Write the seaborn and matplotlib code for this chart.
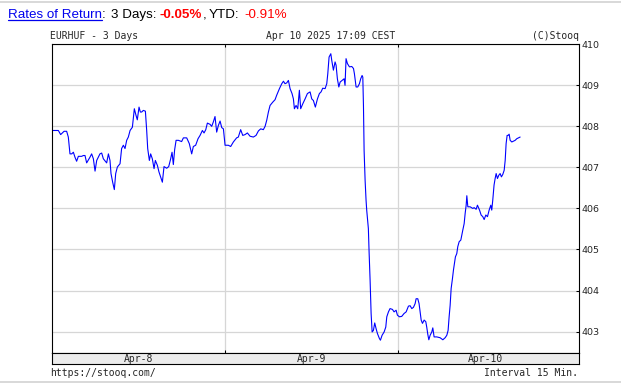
import seaborn as sns
import pandas as pd
import matplotlib
matplotlib.use('Agg')
import matplotlib.pyplot as plt
from matplotlib.lines import Line2D

# EURHUF, 3 days, 15 min interval (hours counted from Apr-8 00:00)
apr8_hours = [0.13, 0.92, 1.24, 1.71, 2.07, 2.30, 2.53, 2.77, 3.00, 3.22, 3.45, 3.69, 4.15, 4.38,
              4.61, 4.84, 5.30, 5.53, 5.77, 6.00, 6.23, 6.68, 6.92, 7.15, 7.61, 7.85, 8.07, 8.21,
              8.44, 8.67, 8.86, 9.09, 9.46, 9.68, 9.92, 10.15, 10.38, 10.61, 10.85, 11.17, 11.44,
              11.67, 11.85, 12.09, 12.27, 12.46, 12.69, 12.97, 13.15, 13.29, 13.52, 13.70, 13.93,
              14.17, 14.35, 14.63, 14.85, 15.09, 15.32, 15.55, 15.92, 16.20, 16.47, 16.66, 16.84,
              17.02, 17.22, 17.54, 17.99, 18.23, 18.69, 19.05, 19.38, 19.61, 19.93, 20.26, 20.54,
              20.86, 21.09, 21.33, 21.55, 21.92, 22.15, 22.38, 22.61, 22.84, 23.07, 23.31, 23.54,
              23.77, 24.00]
apr8_price = [407.90, 407.90, 407.80, 407.88, 407.88, 407.74, 407.33, 407.33, 407.37, 407.25, 407.15,
              407.27, 407.27, 407.29, 407.29, 407.11, 407.25, 407.33, 407.21, 406.91, 407.17, 407.33,
              407.35, 407.21, 407.11, 407.33, 407.17, 406.85, 406.64, 406.46, 406.85, 407.01, 407.09,
              407.46, 407.54, 407.46, 407.66, 407.74, 407.90, 407.98, 408.43, 408.27, 408.16, 408.47,
              408.35, 408.35, 408.39, 408.37, 407.90, 407.46, 407.17, 407.33, 407.21, 406.97, 407.17,
              407.05, 406.89, 406.76, 406.64, 407.02, 406.98, 407.02, 407.21, 407.37, 407.07, 407.43,
              407.66, 407.66, 407.63, 407.72, 407.72, 407.58, 407.33, 407.51, 407.54, 407.70, 407.78,
              407.90, 407.84, 407.92, 408.08, 408.05, 408.00, 408.11, 408.24, 407.86, 408.02, 408.13,
              407.97, 407.94, 407.54]

apr9_hours = [24.45, 24.78, 25.15, 25.60, 25.84, 26.16, 26.45, 26.77, 27.09, 27.46, 27.92, 28.29,
              28.62, 28.94, 29.30, 29.54, 29.77, 30.00, 30.23, 30.60, 30.92, 31.15, 31.53, 31.85,
              32.08, 32.30, 32.54, 32.77, 33.00, 33.27, 33.46, 33.60, 33.83, 34.06, 34.29, 34.47,
              34.76, 35.08, 35.40, 35.77, 36.00, 36.23, 36.50, 36.79, 37.06, 37.29, 37.52, 37.85,
              38.08, 38.22, 38.40, 38.64, 38.77, 39.00, 39.23, 39.37, 39.55, 39.75, 39.93, 40.20,
              40.48, 40.61, 40.75, 40.94, 41.22, 41.54, 41.78, 41.91, 42.14, 42.37, 42.60, 42.78,
              42.97, 43.07, 43.16, 43.25, 43.39, 43.52, 43.61, 43.84, 43.94, 44.08, 44.22, 44.36,
              44.54, 44.72, 44.91, 45.10, 45.37, 45.51, 45.74, 46.02, 46.25, 46.39, 46.62, 46.84,
              47.17, 47.40, 47.68, 47.86]
apr9_price = [407.54, 407.51, 407.62, 407.72, 407.74, 407.92, 407.78, 407.80, 407.84, 407.76, 407.74,
              407.78, 407.89, 407.94, 407.92, 408.00, 408.15, 408.35, 408.51, 408.59, 408.65, 408.76,
              408.92, 409.04, 409.10, 409.04, 409.06, 409.12, 408.92, 408.80, 408.67, 408.43, 408.51,
              408.43, 408.88, 408.43, 408.55, 408.67, 408.80, 408.84, 408.67, 408.63, 408.47, 408.67,
              408.80, 408.84, 408.93, 408.92, 409.04, 409.28, 409.69, 409.77, 409.61, 409.37, 409.57,
              409.49, 409.16, 408.96, 409.08, 409.12, 409.16, 409.00, 409.65, 409.53, 409.45, 409.46,
              409.41, 409.28, 408.96, 408.96, 409.04, 409.16, 409.24, 409.20, 408.51, 407.41, 406.68,
              406.20, 405.96, 405.51, 404.94, 404.25, 403.44, 402.99, 403.03, 403.21, 403.07, 402.95,
              402.83, 402.79, 402.91, 402.99, 403.11, 403.36, 403.48, 403.56, 403.54, 403.48, 403.52,
              403.40]

apr10_hours = [48.14, 48.46, 48.78, 49.07, 49.39, 49.62, 49.85, 50.08, 50.31, 50.45, 50.68, 50.86,
               51.00, 51.15, 51.33, 51.56, 51.79, 51.92, 52.07, 52.21, 52.39, 52.62, 52.76, 52.94,
               53.31, 53.77, 54.15, 54.47, 54.70, 54.88, 55.02, 55.16, 55.30, 55.48, 55.62, 55.76,
               55.89, 56.08, 56.22, 56.41, 56.64, 56.77, 56.91, 57.10, 57.24, 57.38, 57.47, 57.61,
               57.93, 58.30, 58.48, 58.76, 58.94, 59.23, 59.45, 59.68, 59.87, 60.10, 60.33, 60.56,
               60.79, 60.92, 61.06, 61.24, 61.39, 61.53, 61.71, 61.90, 62.08, 62.26, 62.45, 62.64,
               62.78, 62.91, 63.05, 63.19, 63.33, 63.47, 63.70, 63.93, 64.16, 64.39, 64.62, 64.85]
apr10_price = [403.36, 403.37, 403.44, 403.48, 403.62, 403.63, 403.56, 403.59, 403.68, 403.80, 403.80,
               403.68, 403.48, 403.28, 403.20, 403.28, 403.24, 403.11, 402.93, 402.80, 402.91, 402.99,
               403.09, 402.87, 402.87, 402.85, 402.80, 402.85, 402.91, 403.03, 403.36, 403.64, 404.05,
               404.29, 404.50, 404.66, 404.82, 404.90, 405.07, 405.19, 405.23, 405.35, 405.47, 405.63,
               405.88, 406.08, 406.31, 406.04, 406.04, 406.00, 406.02, 405.98, 406.08, 405.96, 405.84,
               405.80, 405.73, 405.84, 405.80, 405.96, 406.08, 405.96, 406.20, 406.57, 406.73, 406.85,
               406.73, 406.81, 406.85, 406.77, 406.83, 406.93, 407.17, 407.58, 407.78, 407.78, 407.81,
               407.66, 407.62, 407.64, 407.66, 407.70, 407.72, 407.74]

day_labels = ['Apr-8', 'Apr-9', 'Apr-10']
day_starts = [0, 24, 48]
y_ticks = [403, 404, 405, 406, 407, 408, 409, 410]
ret_3d = '-0.05%'
ret_ytd = '-0.91%'

df = pd.DataFrame({'hour': apr8_hours + apr9_hours + apr10_hours,
                   'price': apr8_price + apr9_price + apr10_price})

sns.set_style('white')
plt.rcParams['font.family'] = ['DejaVu Sans']

W, H = 621, 392
fig = plt.figure(figsize=(W / 100, H / 100), dpi=100)

# main plot area (pixel box 51.7..579 x 44.3..352.5)
ax = fig.add_axes([51.7 / W, (H - 352.5) / H, (579 - 51.7) / W, (352.5 - 44.3) / H])
sns.lineplot(data=df, x='hour', y='price', ax=ax, color='#0000ff', lw=0.8,
             estimator=None, sort=False, antialiased=True)
ax.set_xlim(0, 73)
ax.set_ylim(402.49, 410)
ax.set_xticks(day_starts[1:])
ax.set_yticks(y_ticks)
ax.grid(True, color='#d6d6d6', lw=0.9)
ax.set_xlabel('')
ax.set_ylabel('')
ax.yaxis.tick_right()
ax.tick_params(axis='y', direction='in', length=2.5, width=0.75, pad=2, labelsize=6.8,
               left=False, right=True, color='black')
ax.tick_params(axis='x', direction='in', length=2.5, width=0.75, top=True, bottom=True,
               labelbottom=False, color='black')
for s in ax.spines.values():
    s.set_color('black')
    s.set_linewidth(0.8)

# date band under the plot
band = fig.add_axes([51.7 / W, (H - 364) / H, (579 - 51.7) / W, (364 - 352.5) / H])
band.set_facecolor('#ececec')
band.set_xlim(0, 73)
band.set_xticks([])
band.set_yticks([])
for s in band.spines.values():
    s.set_color('black')
    s.set_linewidth(0.8)
for start, lab in zip(day_starts, day_labels):
    band.text(start + 12, 0.2, lab, transform=band.get_xaxis_transform(), ha='center',
              va='baseline', fontsize=7, family='DejaVu Sans Mono')

# header texts
mono = dict(fontsize=7, family='DejaVu Sans Mono', va='baseline')
fig.text(50 / W, (H - 39) / H, 'EURHUF - 3 Days', ha='left', **mono)
fig.text(266 / W, (H - 39) / H, 'Apr 10 2025 17:09 CEST', ha='left', **mono)
fig.text(579 / W, (H - 39) / H, '(C)Stooq', ha='right', **mono)
fig.text(50 / W, (H - 375.5) / H, 'https://stooq.com/', ha='left', **mono)
fig.text(578 / W, (H - 375.5) / H, 'Interval 15 Min.', ha='right', **mono)

hdr = dict(fontsize=9.6, family='Liberation Sans', va='baseline')
yb = (H - 18.3) / H
fig.text(8 / W, yb, 'Rates of Return', color='#0000ee', **hdr)
fig.text(101.5 / W, yb, ':', color='black', **hdr)
fig.text(111 / W, yb, '3 Days:', color='black', **hdr)
fig.text(159 / W, yb, ret_3d, color='#ff0000', fontweight='bold', **hdr)
fig.text(203 / W, yb, ',', color='black', **hdr)
fig.text(209 / W, yb, 'YTD:', color='black', **hdr)
fig.text(244.5 / W, yb, ret_ytd, color='#ff0000', **hdr)
fig.add_artist(Line2D([8 / W, 101.5 / W], [(H - 19.8) / H] * 2, transform=fig.transFigure,
                      color='#0000ee', lw=0.9))

# thin page separators
fig.add_artist(Line2D([0, 1], [(H - 1.7) / H] * 2, transform=fig.transFigure, color='#d6d6d6', lw=1.3))
fig.add_artist(Line2D([0, 1], [(H - 382.3) / H] * 2, transform=fig.transFigure, color='#d6d6d6', lw=1.3))

fig.savefig('out.png', dpi=100, facecolor='white')
